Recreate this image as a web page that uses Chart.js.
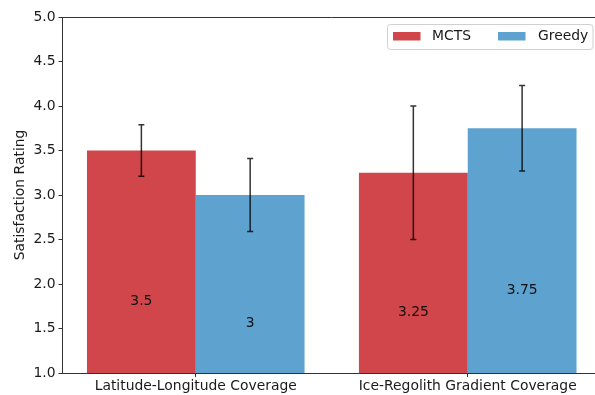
<!DOCTYPE html>
<html>
<head>
<meta charset="utf-8">
<script src="https://cdn.jsdelivr.net/npm/chart.js@4.4.1/dist/chart.umd.min.js"></script>
<style>
html,body{margin:0;padding:0;background:#fff;overflow:hidden;}
canvas{display:block;}
</style>
</head>
<body>
<canvas id="c" width="601" height="395"></canvas>
<script>
const categories = ["Latitude-Longitude Coverage", "Ice-Regolith Gradient Coverage"];
const seriesNames = ["MCTS", "Greedy"];
const mctsValues = [3.5, 3.25];
const greedyValues = [3.0, 3.75];
const mctsErrors = [0.29, 0.75];
const greedyErrors = [0.41, 0.48];
const valueLabels = [["3.5", "3.25"], ["3", "3.75"]];
const yTicks = [1.0, 1.5, 2.0, 2.5, 3.0, 3.5, 4.0, 4.5, 5.0];

const FONT = {family: "DejaVu Sans", size: 13.9};
const TXT = "#1a1a1a";
const EDGE = "#333333";
const colors = ["#D0464A", "#5EA2D0"];

const toPoints = vals => vals.map((v, i) => ({x: i, y: v}));
const errors = [mctsErrors, greedyErrors];

const overlay = {
  id: "overlay",
  afterDatasetsDraw(chart) {
    const ctx = chart.ctx, ys = chart.scales.y;
    chart.data.datasets.forEach((ds, di) => {
      const meta = chart.getDatasetMeta(di);
      meta.data.forEach((bar, i) => {
        const v = ds.data[i].y, e = errors[di][i];
        const x = bar.x;
        ctx.save();
        ctx.fillStyle = "#111";
        ctx.font = FONT.size + "px " + FONT.family;
        ctx.textAlign = "center";
        ctx.textBaseline = "alphabetic";
        ctx.fillText(valueLabels[di][i], x, ys.getPixelForValue(v / 2) - 1.5);
        ctx.restore();
        const yt = ys.getPixelForValue(v + e), yb = ys.getPixelForValue(v - e);
        ctx.save();
        ctx.strokeStyle = "rgba(0,0,0,0.8)";
        ctx.lineWidth = 1.5;
        ctx.beginPath();
        ctx.moveTo(x, yt); ctx.lineTo(x, yb);
        ctx.moveTo(x - 3, yt); ctx.lineTo(x + 3, yt);
        ctx.moveTo(x - 3, yb); ctx.lineTo(x + 3, yb);
        ctx.stroke();
        ctx.restore();
      });
    });
  },
  afterDraw(chart) {
    const ctx = chart.ctx;
    const bx = 387.5, by = 24.5, bw = 205.5, bh = 25, r = 3;
    ctx.save();
    ctx.fillStyle = "rgba(255,255,255,0.8)";
    ctx.strokeStyle = "#d0d0d0";
    ctx.lineWidth = 1;
    ctx.beginPath();
    ctx.moveTo(bx + r, by);
    ctx.arcTo(bx + bw, by, bx + bw, by + bh, r);
    ctx.arcTo(bx + bw, by + bh, bx, by + bh, r);
    ctx.arcTo(bx, by + bh, bx, by, r);
    ctx.arcTo(bx, by, bx + bw, by, r);
    ctx.closePath();
    ctx.fill(); ctx.stroke();
    const items = [{px: 393, tx: 432}, {px: 498, tx: 538}];
    chart.data.datasets.forEach((ds, i) => {
      ctx.fillStyle = ds.backgroundColor;
      ctx.fillRect(items[i].px, 32, 27.5, 8.5);
      ctx.fillStyle = TXT;
      ctx.font = FONT.size + "px " + FONT.family;
      ctx.textAlign = "left";
      ctx.textBaseline = "middle";
      ctx.fillText(ds.label, items[i].tx, 36.5);
    });
    ctx.restore();
  }
};

new Chart(document.getElementById("c"), {
  type: "bar",
  data: {
    datasets: [
      {label: seriesNames[0], data: toPoints(mctsValues), backgroundColor: colors[0], borderWidth: 0},
      {label: seriesNames[1], data: toPoints(greedyValues), backgroundColor: colors[1], borderWidth: 0}
    ]
  },
  options: {
    responsive: false,
    animation: false,
    devicePixelRatio: 1,
    categoryPercentage: 0.8,
    barPercentage: 1.0,
    layout: {padding: {top: 17, right: 0, left: 0, bottom: 0}},
    plugins: {legend: {display: false}, tooltip: {enabled: false}},
    scales: {
      x: {
        type: "linear",
        min: -0.49,
        max: 1.49,
        offset: false,
        afterBuildTicks(scale) { scale.ticks = categories.map((c, i) => ({value: i})); },
        afterFit(scale) { scale.height = 22; },
        ticks: {
          callback: v => categories[v],
          font: FONT, color: TXT, padding: 1, maxRotation: 0, autoSkip: false
        },
        grid: {offset: false, drawOnChartArea: false, drawTicks: true, tickLength: 4, color: EDGE, lineWidth: 1},
        border: {display: true, color: EDGE, width: 1}
      },
      y: {
        min: 1, max: 5,
        afterBuildTicks(scale) { scale.ticks = yTicks.map(v => ({value: v})); },
        afterFit(scale) { scale.width = 62.5; },
        ticks: {callback: v => v.toFixed(1), font: FONT, color: TXT, padding: 3},
        grid: {drawOnChartArea: false, drawTicks: true, tickLength: 4, color: EDGE, lineWidth: 1},
        border: {display: true, color: EDGE, width: 1},
        title: {display: true, text: "Satisfaction Rating", font: FONT, color: TXT, padding: {top: 12, bottom: 0}}
      }
    }
  },
  plugins: [overlay, {
    id: "frame",
    afterDraw(chart) {
      const {ctx, chartArea: a} = chart;
      ctx.save();
      ctx.strokeStyle = EDGE; ctx.lineWidth = 1;
      ctx.beginPath();
      ctx.moveTo(a.left, a.top + 0.5); ctx.lineTo(a.right, a.top + 0.5);
      ctx.moveTo(a.right - 0.5, a.top); ctx.lineTo(a.right - 0.5, a.bottom);
      ctx.stroke();
      ctx.restore();
    }
  }]
});
</script>
</body>
</html>
